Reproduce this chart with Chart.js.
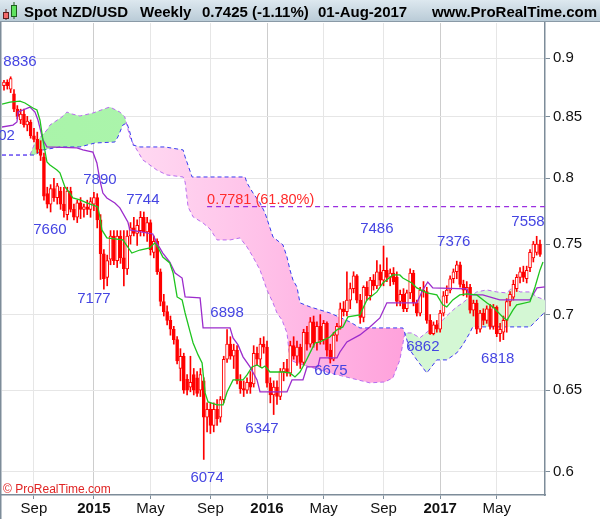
<!DOCTYPE html>
<html>
<head>
<meta charset="utf-8">
<script src="https://cdn.jsdelivr.net/npm/chart.js@4.4.1/dist/chart.umd.min.js"></script>
<style>
  html, body { margin: 0; padding: 0; background: #fff; }
</style>
</head>
<body>
<canvas id="chart" width="600" height="519"></canvas>
<script>
// ── Spot NZD/USD weekly, Ichimoku overlay ───────────────────────────────────

// Weekly candles, week 0 = 30-Jun-2014 ... week 161 = 31-Jul-2017
var opens = [
  .8760,.8790,.8730,.8690,.8560,.8470,.8520,.8430,.8450,.8340,
  .8310,.8230,.8170,.7880,.7800,.7920,.7850,.7900,.7800,.7720,
  .7900,.7760,.7700,.7810,.7760,.7780,.7760,.7800,.7850,.7680,
  .7430,.7260,.7390,.7560,.7380,.7560,.7400,.7320,.7560,.7620,
  .7580,.7600,.7700,.7590,.7660,.7440,.7520,.7300,.7090,.7020,
  .6960,.6900,.6830,.6640,.6720,.6570,.6520,.6600,.6580,.6500,
  .6560,.6330,.6380,.6280,.6380,.6330,.6440,.6700,.6800,.6720,
  .6760,.6560,.6510,.6500,.6550,.6540,.6740,.6700,.6800,.6780,
  .6545,.6470,.6520,.6460,.6620,.6640,.6610,.6790,.6720,.6780,
  .6680,.6880,.6800,.6950,.6810,.6920,.6830,.6940,.6760,.6700,
  .6860,.6920,.7040,.7020,.7100,.7180,.7270,.7100,.6980,.7190,
  .7130,.7240,.7200,.7300,.7240,.7310,.7260,.7290,.7260,.7090,
  .7140,.7040,.7150,.7290,.7080,.7010,.7170,.7160,.6960,.6870,
  .6930,.6900,.7010,.7130,.7170,.7250,.7300,.7350,.7210,.7170,
  .7190,.7030,.7080,.6900,.7010,.6960,.7040,.6920,.7050,.6870,
  .6880,.6960,.7090,.7120,.7180,.7260,.7300,.7250,.7330,.7400,
  .7440,.7500
];
var highs = [
  .8805,.8810,.8836,.8725,.8590,.8560,.8560,.8500,.8470,.8400,
  .8370,.8300,.8200,.7930,.7950,.8000,.7960,.7930,.7930,.7930,
  .7930,.7800,.7830,.7850,.7800,.7830,.7850,.7890,.7880,.7720,
  .7460,.7420,.7600,.7600,.7600,.7600,.7600,.7600,.7660,.7700,
  .7680,.7744,.7740,.7700,.7680,.7560,.7540,.7320,.7140,.7060,
  .6990,.6920,.6850,.6770,.6740,.6600,.6720,.6640,.6620,.6640,
  .6580,.6420,.6420,.6420,.6440,.6460,.6720,.6898,.6850,.6800,
  .6790,.6600,.6560,.6580,.6620,.6790,.6780,.6840,.6850,.6820,
  .6580,.6560,.6560,.6640,.6680,.6700,.6820,.6850,.6820,.6800,
  .6900,.6920,.6980,.6990,.6950,.7000,.6960,.6950,.6800,.6880,
  .6940,.7080,.7090,.7300,.7220,.7300,.7280,.7140,.7200,.7230,
  .7260,.7280,.7380,.7350,.7486,.7400,.7320,.7330,.7300,.7170,
  .7180,.7170,.7320,.7310,.7100,.7190,.7230,.7190,.7000,.6950,
  .6960,.7030,.7160,.7200,.7270,.7320,.7376,.7370,.7240,.7230,
  .7210,.7100,.7100,.7030,.7040,.7060,.7070,.7070,.7060,.6940,
  .6990,.7110,.7160,.7240,.7280,.7330,.7340,.7340,.7460,.7520,
  .7558,.7530
];
var lows = [
  .8720,.8730,.8700,.8540,.8480,.8440,.8410,.8380,.8320,.8290,
  .8200,.8140,.7830,.7770,.7740,.7820,.7800,.7760,.7700,.7680,
  .7740,.7680,.7660,.7690,.7700,.7720,.7700,.7750,.7620,.7245,
  .7177,.7200,.7350,.7350,.7330,.7360,.7200,.7280,.7500,.7560,
  .7490,.7560,.7560,.7520,.7420,.7400,.7280,.7060,.6990,.6930,
  .6860,.6800,.6670,.6560,.6480,.6470,.6490,.6470,.6460,.6460,
  .6074,.6240,.6230,.6240,.6280,.6300,.6420,.6680,.6700,.6640,
  .6540,.6480,.6460,.6480,.6480,.6520,.6660,.6650,.6740,.6520,
  .6420,.6347,.6410,.6440,.6560,.6590,.6590,.6700,.6660,.6640,
  .6660,.6760,.6780,.6780,.6760,.6800,.6800,.6720,.6675,.6690,
  .6820,.6900,.6990,.6990,.7040,.7150,.7080,.6940,.6950,.7100,
  .7100,.7170,.7180,.7200,.7200,.7230,.7200,.7210,.7060,.7060,
  .7020,.7020,.7110,.7060,.6990,.6990,.7120,.6940,.6865,.6862,
  .6880,.6880,.6990,.7080,.7150,.7220,.7250,.7190,.7130,.7120,
  .7010,.6990,.6870,.6880,.6930,.6940,.6900,.6900,.6850,.6818,
  .6830,.6880,.7060,.7100,.7160,.7220,.7230,.7220,.7300,.7370,
  .7420,.7410
];
var closes = [
  .8790,.8760,.8820,.8560,.8500,.8520,.8430,.8460,.8340,.8310,
  .8230,.8180,.7860,.7800,.7920,.7850,.7940,.7800,.7750,.7900,
  .7760,.7700,.7810,.7760,.7780,.7760,.7820,.7850,.7680,.7430,
  .7250,.7380,.7560,.7380,.7560,.7400,.7320,.7560,.7620,.7580,
  .7640,.7700,.7590,.7660,.7460,.7520,.7300,.7090,.7020,.6960,
  .6900,.6830,.6690,.6720,.6500,.6500,.6550,.6500,.6480,.6600,
  .6330,.6380,.6280,.6380,.6320,.6440,.6700,.6800,.6720,.6760,
  .6560,.6510,.6500,.6550,.6520,.6740,.6700,.6800,.6780,.6545,
  .6470,.6520,.6460,.6620,.6640,.6610,.6790,.6720,.6780,.6680,
  .6880,.6800,.6950,.6810,.6920,.6830,.6940,.6760,.6700,.6860,
  .6920,.7040,.7020,.7100,.7180,.7270,.7100,.6980,.7190,.7130,
  .7240,.7200,.7300,.7240,.7310,.7260,.7290,.7230,.7090,.7140,
  .7040,.7150,.7290,.7080,.7010,.7170,.7160,.6960,.6870,.6930,
  .6900,.7010,.7130,.7170,.7250,.7300,.7350,.7210,.7170,.7190,
  .7030,.7080,.6900,.7010,.6960,.7040,.6920,.7050,.6870,.6900,
  .6960,.7090,.7140,.7210,.7260,.7300,.7260,.7310,.7440,.7500,
  .7500,.7425
];

// Tenkan-sen (green)
var tenkanWeeks  = [-0.6,1.8,4.8,6.3,8.7,9.9,10.8,11.7,12.9,13.8,15.9,16.8,18.3,19.8,20.7,22.8,24.9,26.7,28.2,28.8,
                    29.4,30.9,35.7,37.2,38.4,40.8,43.8,45.3,46.2,47.7,49.8,50.8,52.0,53.5,54.4,55.9,56.8,58.3,59.5,60.4,
                    61.3,64.0,65.8,67.0,68.8,71.8,73.0,74.5,76.0,77.5,78.4,79.9,83.8,85.9,87.4,88.9,90.4,91.9,93.4,94.9,
                    97.9,100.0,101.8,103.3,106.9,109.0,112.0,113.8,116.8,118.9,119.8,122.5,124.0,127.0,130.0,131.8,133.0,134.8,136.9,139.0,
                    142.0,145.0,146.8,149.8,151.1,152.9,154.0,158.0,159.5,161.0,161.9];
var tenkanPrices = [.8603,.8620,.8628,.8612,.8570,.8553,.8470,.8306,.8128,.8105,.8065,.8042,.7932,.7885,.7847,.7832,.7809,.7793,.7778,.7703,
                    .7605,.7546,.7531,.7479,.7435,.7457,.7472,.7509,.7479,.7406,.7363,.7291,.7122,.7101,.7011,.6882,.6808,.6729,.6676,.6483,
                    .6426,.6407,.6407,.6489,.6566,.6566,.6598,.6650,.6663,.6643,.6656,.6617,.6617,.6611,.6585,.6617,.6676,.6742,.6808,.6815,
                    .6848,.6896,.6916,.6984,.6998,.7101,.7157,.7220,.7277,.7277,.7255,.7220,.7185,.7150,.7136,.7067,.7053,.7101,.7136,.7143,
                    .7136,.7081,.7053,.6984,.6963,.7032,.7067,.7088,.7192,.7313,.7370];

// Kijun-sen (purple)
var kijunWeeks  = [-0.6,2.7,3.9,4.2,5.7,7.8,9.3,10.2,11.7,12.9,21.9,23.7,26.7,27.9,28.8,29.7,30.9,33.3,34.8,37.2,
                   37.8,44.7,45.9,47.7,49.8,51.4,53.5,54.4,58.9,59.8,67.9,68.8,70.3,71.8,73.9,76.0,76.9,85.0,86.5,89.8,
                   91.0,94.3,94.9,100.0,100.9,103.0,106.9,109.9,112.9,115.0,124.0,125.8,127.3,128.8,139.0,139.9,143.8,148.9,158.0,160.1,162.5];
var kijunPrices = [.8412,.8428,.8453,.8536,.8553,.8578,.8536,.8470,.8306,.8249,.8241,.8225,.8208,.8121,.7986,.7885,.7847,.7809,.7771,.7665,
                   .7605,.7575,.7509,.7435,.7370,.7291,.7255,.7122,.7115,.6909,.6909,.6842,.6795,.6716,.6650,.6566,.6489,.6489,.6566,.6566,
                   .6650,.6650,.6709,.6709,.6748,.6815,.6862,.6916,.6977,.7081,.7081,.7171,.7227,.7185,.7178,.7136,.7136,.7101,.7101,.7185,.7192];

// Senkou span A (violet dashes)
var spanAWeeks  = [-0.6,7.8,9.3,12.9,13.8,17.4,18.9,20.4,22.8,26.7,30.9,31.8,34.8,36.3,37.8,38.7,41.7,45.9,48.9,53.8,
                   54.4,55.3,56.8,59.8,61.9,64.0,67.9,70.9,73.0,74.8,76.9,79.0,80.8,82.0,83.5,85.0,85.9,88.0,91.9,97.9,
                   103.9,109.9,114.4,116.8,118.9,120.4,122.5,124.9,127.9,130.9,133.9,136.0,137.8,139.9,142.0,145.0,148.0,151.0,152.9,155.0,
                   158.0,160.1,162.5];
var spanAPrices = [.8184,.8184,.8281,.8387,.8428,.8495,.8536,.8520,.8503,.8528,.8570,.8578,.8536,.8495,.8330,.8281,.8145,.8065,.8026,.8010,
                   .7971,.7778,.7703,.7657,.7612,.7531,.7531,.7546,.7479,.7406,.7313,.7171,.7081,.7011,.6963,.6875,.6696,.6676,.6650,.6611,
                   .6579,.6547,.6553,.6579,.6696,.6875,.6875,.6842,.6896,.6943,.7011,.7053,.7081,.7122,.7157,.7171,.7157,.7150,.7192,.7157,
                   .7157,.7122,.7101];

// Senkou span B (blue dashes)
var spanBWeeks  = [-0.6,9.3,11.7,16.8,22.8,27.3,33.3,34.2,35.7,36.9,37.8,38.7,40.8,48.3,53.8,54.4,56.5,72.4,73.0,74.8,
                   76.9,78.4,79.9,80.8,83.8,85.0,85.9,86.8,88.0,88.9,91.9,97.9,103.9,106.9,119.8,120.4,121.9,124.0,127.0,130.0,
                   133.0,136.0,137.8,139.9,140.8,158.0,160.1,162.5];
var spanBPrices = [.8184,.8184,.8225,.8249,.8249,.8281,.8289,.8330,.8428,.8445,.8371,.8265,.8249,.8249,.8225,.8169,.8010,.8010,.7963,.7885,
                   .7809,.7733,.7620,.7553,.7494,.7406,.7313,.7241,.7192,.7081,.7053,.7011,.6950,.6909,.6909,.6875,.6762,.6696,.6611,.6696,
                   .6696,.6742,.6795,.6875,.6916,.6916,.6963,.7018];

// Fibonacci retracement level
var fiboLevel     = 0.7781;
var fiboStartWeek = 61;
var fiboEndWeek   = 162.5;
var fiboText      = '0.7781 (61.80%)';

// Swing labels (text, week, price)
var swingTexts  = ['8836','02','7890','7744','7660','7177','6898','6347','6074','6675','7486','6862','7376','6818','7558'];
var swingWeeks  = [4.8, 0.75, 28.8, 41.7, 13.8, 27.0, 67.0, 77.5, 61.0, 98.2, 112.0, 125.8, 135.1, 148.3, 157.4];
var swingPrices = [.8965,.8338,.7986,.7832,.7603,.7108,.7011,.6258,.5965,.6623,.7612,.6782,.7516,.6702,.7665];

// Axes
var xTickWeeks  = [9, 27, 44, 62, 79, 96, 114, 131, 148];
var xTickLabels = ['Sep', '2015', 'May', 'Sep', '2016', 'May', 'Sep', '2017', 'May'];
var yTicks      = [0.6, 0.65, 0.7, 0.75, 0.8, 0.85, 0.9];
var yMin = 0.5866, yMax = 0.9314;
var xMin = -0.6,   xMax = 162.5;

var SLATE = '#7d8c99';
var FONT  = '"Liberation Sans", Arial, sans-serif';

(function () {
    var canvas = document.getElementById('chart');
    var ctx = canvas.getContext('2d');

    var weeks = opens.map(function (_, i) { return i; });
    function pairs(xs, ys) { return xs.map(function (x, i) { return { x: x, y: ys[i] }; }); }

    // cloud colours: first green cloud stronger, later one paler; pink deepens to the right
    var greenFill = ctx.createLinearGradient(0, 0, 600, 0);
    greenFill.addColorStop(0, '#a9f4a9');
    greenFill.addColorStop(0.60, '#aef4ae');
    greenFill.addColorStop(0.70, '#d4f7d4');
    greenFill.addColorStop(1, '#d4f7d4');
    var pinkFill = ctx.createLinearGradient(130, 0, 410, 0);
    pinkFill.addColorStop(0, '#ffdaf2');
    pinkFill.addColorStop(0.45, '#ffc2e9');
    pinkFill.addColorStop(1, '#ffa0db');

    var decorPlugin = {
        id: 'decor',
        beforeDraw: function (chart) {
            var c = chart.ctx;
            c.save();
            c.fillStyle = '#ffffff';
            c.fillRect(0, 0, chart.width, chart.height);

            // header bar
            var g = c.createLinearGradient(0, 0, 0, 22);
            g.addColorStop(0, '#dde8ef');
            g.addColorStop(1, '#b8cad6');
            c.fillStyle = g;
            c.fillRect(0, 0, chart.width, 22);
            c.fillStyle = '#8a9aa7';
            c.fillRect(0, 21, chart.width, 1);

            // small candle icon
            c.strokeStyle = '#5a2020';
            c.lineWidth = 1;
            c.beginPath(); c.moveTo(6, 9); c.lineTo(6, 20); c.stroke();
            c.fillStyle = '#f26a6a';
            c.fillRect(3.5, 12.5, 5, 6);
            c.strokeRect(3.5, 12.5, 5, 6);
            c.strokeStyle = '#1f5f1f';
            c.beginPath(); c.moveTo(14, 2); c.lineTo(14, 19); c.stroke();
            c.fillStyle = '#5fe35f';
            c.fillRect(11.5, 5.5, 5, 11);
            c.strokeRect(11.5, 5.5, 5, 11);

            c.fillStyle = '#000000';
            c.font = 'bold 15px ' + FONT;
            c.textBaseline = 'alphabetic';
            c.textAlign = 'left';
            c.fillText('Spot NZD/USD', 24, 17);
            c.fillText('Weekly', 140, 17);
            c.fillText('0.7425 (-1.11%)', 202, 17);
            c.fillText('01-Aug-2017', 318, 17);
            c.textAlign = 'right';
            c.fillText('www.ProRealTime.com', 597, 17);

            // left frame
            c.fillStyle = SLATE;
            c.fillRect(0, 22, 1.5, chart.height - 22);
            c.restore();
        },
        afterDatasetsDraw: function (chart) {
            var c = chart.ctx;
            var xs = chart.scales.x, ys = chart.scales.y;
            c.save();
            c.textAlign = 'center';
            c.textBaseline = 'middle';
            c.font = '15px ' + FONT;
            c.fillStyle = '#4545e2';
            swingTexts.forEach(function (t, i) {
                c.fillText(t, xs.getPixelForValue(swingWeeks[i]), ys.getPixelForValue(swingPrices[i]));
            });

            c.textAlign = 'left';
            c.textBaseline = 'alphabetic';
            c.font = '14.5px ' + FONT;
            c.fillStyle = '#ff2b2b';
            c.fillText(fiboText, xs.getPixelForValue(fiboStartWeek), ys.getPixelForValue(fiboLevel) - 3);

            c.font = '12px ' + FONT;
            c.fillStyle = '#e02424';
            c.fillText('\u00a9 ProRealTime.com', 3, 493);
            c.restore();
        }
    };

    var lineBase = { type: 'line', pointRadius: 0, tension: 0, fill: false };

    new Chart(canvas, {
        type: 'bar',
        data: {
            datasets: [
                Object.assign({}, lineBase, {
                    label: 'Senkou A',
                    data: pairs(spanAWeeks, spanAPrices),
                    borderColor: '#b96cf0',
                    borderWidth: 1,
                    borderDash: [4, 3],
                    fill: { target: 1, above: greenFill, below: pinkFill },
                    order: 10
                }),
                Object.assign({}, lineBase, {
                    label: 'Senkou B',
                    data: pairs(spanBWeeks, spanBPrices),
                    borderColor: '#3b3bf2',
                    borderWidth: 1,
                    borderDash: [4, 3],
                    order: 9
                }),
                Object.assign({}, lineBase, {
                    label: 'Fibo 61.8%',
                    data: [{ x: fiboStartWeek, y: fiboLevel }, { x: fiboEndWeek, y: fiboLevel }],
                    borderColor: '#9a2fe0',
                    borderWidth: 1.2,
                    borderDash: [5, 4],
                    order: 8
                }),
                {
                    type: 'bar',
                    label: 'Wicks',
                    data: weeks.map(function (i) { return { x: i, y: [lows[i], highs[i]] }; }),
                    backgroundColor: '#ff0000',
                    borderWidth: 0,
                    barThickness: 1,
                    grouped: false,
                    order: 7
                },
                {
                    type: 'bar',
                    label: 'Bodies',
                    data: weeks.map(function (i) { return { x: i, y: [opens[i], closes[i]] }; }),
                    backgroundColor: weeks.map(function (i) { return closes[i] >= opens[i] ? '#ffffff' : '#ff0000'; }),
                    borderColor: '#ff0000',
                    borderWidth: 1,
                    borderSkipped: false,
                    barThickness: 3,
                    grouped: false,
                    order: 6
                },
                Object.assign({}, lineBase, {
                    label: 'Kijun',
                    data: pairs(kijunWeeks, kijunPrices),
                    borderColor: '#9c2ccc',
                    borderWidth: 1.3,
                    order: 5
                }),
                Object.assign({}, lineBase, {
                    label: 'Tenkan',
                    data: pairs(tenkanWeeks, tenkanPrices),
                    borderColor: '#1fc41f',
                    borderWidth: 1.3,
                    order: 4
                })
            ]
        },
        options: {
            responsive: false,
            animation: false,
            devicePixelRatio: 1,
            layout: { padding: { top: 23, left: 2, right: 0, bottom: 0 } },
            plugins: {
                legend: { display: false },
                tooltip: { enabled: false },
                title: { display: false }
            },
            scales: {
                x: {
                    type: 'linear',
                    position: 'bottom',
                    min: xMin,
                    max: xMax,
                    bounds: 'data',
                    offset: false,
                    afterBuildTicks: function (scale) {
                        scale.ticks = xTickWeeks.map(function (v) { return { value: v }; });
                    },
                    afterFit: function (scale) { scale.height = 24; },
                    ticks: {
                        autoSkip: false,
                        maxRotation: 0,
                        padding: 1,
                        color: '#111111',
                        font: function (c) {
                            var isYear = c.tick && /^\d{4}$/.test(xTickLabels[xTickWeeks.indexOf(c.tick.value)] || '');
                            return { family: FONT, size: 15, weight: isYear ? 'bold' : 'normal' };
                        },
                        callback: function (v) { return xTickLabels[xTickWeeks.indexOf(v)]; }
                    },
                    grid: {
                        offset: false,
                        color: function (c) {
                            var lbl = c.tick ? xTickLabels[xTickWeeks.indexOf(c.tick.value)] : '';
                            return /^\d{4}$/.test(lbl || '') ? '#cdcdcd' : '#e6e6e6';
                        },
                        lineWidth: 1,
                        drawTicks: true,
                        tickLength: 4,
                        tickColor: SLATE
                    },
                    border: { display: true, color: SLATE, width: 1.5 }
                },
                y: {
                    type: 'logarithmic',
                    position: 'right',
                    min: yMin,
                    max: yMax,
                    bounds: 'data',
                    afterBuildTicks: function (scale) {
                        scale.ticks = yTicks.map(function (v) { return { value: v }; });
                    },
                    afterFit: function (scale) { scale.width = 55; },
                    ticks: {
                        padding: 3,
                        color: '#111111',
                        font: { family: FONT, size: 15 },
                        callback: function (v) { return String(+Number(v).toFixed(2)); }
                    },
                    grid: {
                        color: '#e6e6e6',
                        lineWidth: 1,
                        drawTicks: true,
                        tickLength: 5,
                        tickColor: SLATE
                    },
                    border: { display: true, color: SLATE, width: 1.5 }
                }
            }
        },
        plugins: [decorPlugin]
    });
}());
</script>
</body>
</html>
